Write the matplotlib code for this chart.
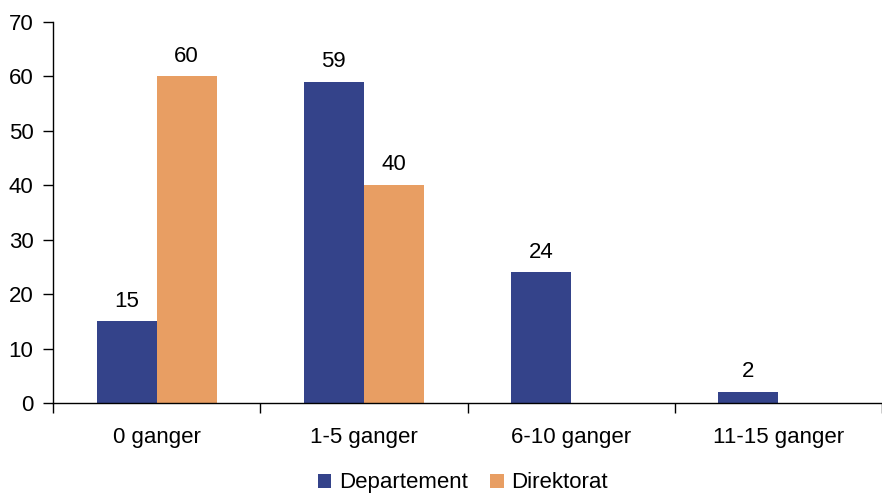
import numpy as np
import matplotlib
matplotlib.use("Agg")
import matplotlib.pyplot as plt

plt.rcParams['font.family'] = ['Liberation Sans', 'DejaVu Sans']

categories = ['0 ganger', '1-5 ganger', '6-10 ganger', '11-15 ganger']
departement = [15, 59, 24, 2]
direktorat = [60, 40, None, None]
dept_color = '#34438A'
dir_color = '#E89E63'

fig = plt.figure(figsize=(8.82, 4.97), dpi=100)
ax = fig.add_axes([53 / 882, 1 - 403 / 497, 1 - 53 / 882, (403 - 22) / 497])

x = np.arange(len(categories))
w = 0.29
off = w / 2

for i, v in enumerate(departement):
    ax.bar(x[i] - off, v, width=w, color=dept_color, linewidth=0,
           label='Departement' if i == 0 else None)
    ax.text(x[i] - off, v + 1.8, str(v), ha='center', va='bottom', fontsize=16)
for i, v in enumerate(direktorat):
    if v is None:
        continue
    ax.bar(x[i] + off, v, width=w, color=dir_color, linewidth=0,
           label='Direktorat' if i == 0 else None)
    ax.text(x[i] + off, v + 1.8, str(v), ha='center', va='bottom', fontsize=16)

ax.set_ylim(0, 70)
ax.set_yticks(range(0, 71, 10))
ax.set_xlim(-0.5, -0.5 + (882 - 53) / 209)

# category boundaries as major ticks, labels on minor ticks
ax.set_xticks(np.arange(-0.5, 4, 1))
ax.set_xticklabels([])
ax.set_xticks(x, minor=True)
ax.set_xticklabels(categories, minor=True)
ax.tick_params(axis='x', which='major', direction='out', length=7, width=1)
ax.tick_params(axis='x', which='minor', length=0, pad=17, labelsize=16)
ax.tick_params(axis='y', direction='out', length=7, width=1, labelsize=16, pad=7)

for s in ['top', 'right']:
    ax.spines[s].set_visible(False)
for s in ['left', 'bottom']:
    ax.spines[s].set_linewidth(1)
    ax.spines[s].set_color('black')

fig.legend(loc='lower center', bbox_to_anchor=(0.525, -0.033), ncol=2, frameon=False,
           fontsize=16, handlelength=0.6, handleheight=0.6, columnspacing=1.0,
           handletextpad=0.35)

fig.savefig('out.png', dpi=100)
